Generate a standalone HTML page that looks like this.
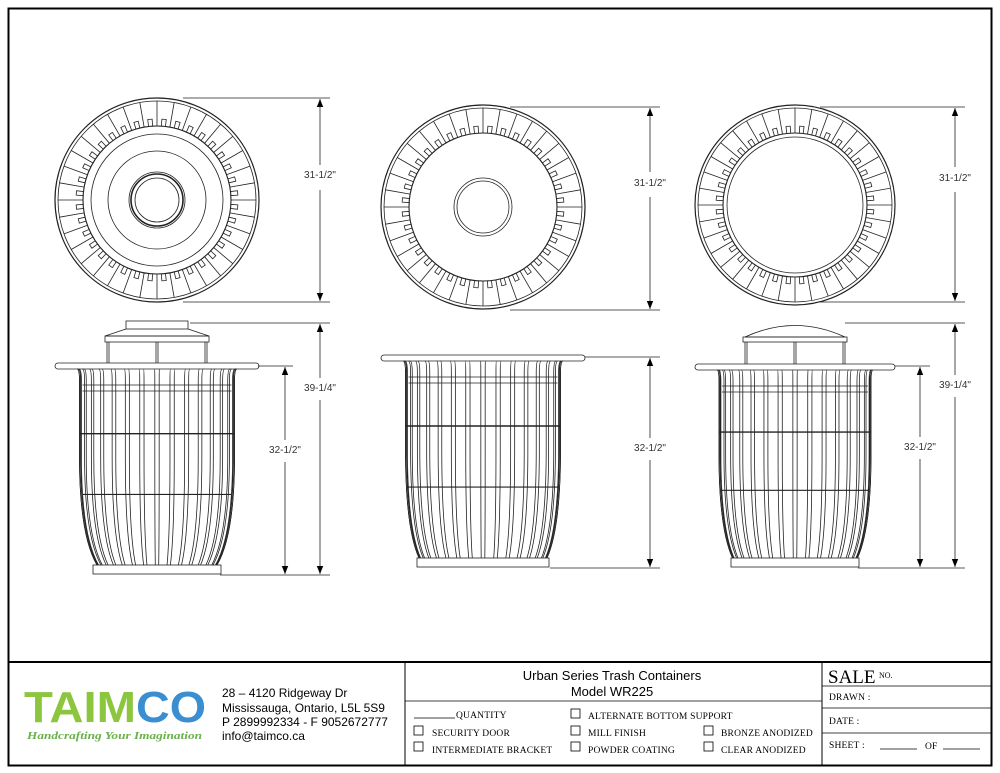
<!DOCTYPE html>
<html><head><meta charset="utf-8"><style>
html,body{margin:0;padding:0;background:#fff}
svg{display:block}
.s{font-family:"Liberation Serif",serif;font-size:9.5px;letter-spacing:0.2px}
</style></head><body>
<svg id="d" width="1000" height="773" viewBox="0 0 1000 773" xmlns="http://www.w3.org/2000/svg" fill="none" stroke="#222" stroke-width="0.8" font-family="Liberation Sans, sans-serif">
<defs><marker id="a" viewBox="0 0 10 10" refX="10" refY="5" markerWidth="8" markerHeight="12" orient="auto-start-reverse" markerUnits="userSpaceOnUse"><path d="M0,1 L10,5 L0,9z" fill="#000" stroke="none"/></marker></defs>
<rect x="8.5" y="8.5" width="983" height="757" stroke="#000" stroke-width="2"/>
<line x1="8" y1="662" x2="992" y2="662" stroke="#000" stroke-width="2"/>
<line x1="405" y1="662" x2="405" y2="766" stroke="#000" stroke-width="1"/>
<line x1="822" y1="662" x2="822" y2="766" stroke="#000" stroke-width="1"/>
<line x1="405" y1="701" x2="822" y2="701" stroke="#000"/>
<line x1="822" y1="686" x2="992" y2="686" stroke="#000"/>
<line x1="822" y1="708" x2="992" y2="708" stroke="#000"/>
<line x1="822" y1="733" x2="992" y2="733" stroke="#000"/>
<g id="g"></g>
<g stroke="none" fill="#000">
<text x="320" y="178" font-size="10" text-anchor="middle" fill="#333">31-1/2"</text>
<text x="650" y="186" font-size="10" text-anchor="middle" fill="#333">31-1/2"</text>
<text x="955" y="181" font-size="10" text-anchor="middle" fill="#333">31-1/2"</text>
<text x="320" y="391" font-size="10" text-anchor="middle" fill="#333">39-1/4"</text>
<text x="285" y="453" font-size="10" text-anchor="middle" fill="#333">32-1/2"</text>
<text x="650" y="451" font-size="10" text-anchor="middle" fill="#333">32-1/2"</text>
<text x="955" y="388" font-size="10" text-anchor="middle" fill="#333">39-1/4"</text>
<text x="920" y="450" font-size="10" text-anchor="middle" fill="#333">32-1/2"</text>
<text x="24" y="722" font-size="44" font-weight="bold" fill="#8cc63f" textLength="112" lengthAdjust="spacingAndGlyphs">TAIM</text>
<text x="136" y="722" font-size="44" font-weight="bold" fill="#3b8fd0" textLength="70" lengthAdjust="spacingAndGlyphs">CO</text>
<text x="27" y="739" font-size="11" font-style="italic" font-weight="bold" fill="#6ab04c" style="font-family:'Liberation Serif',serif" textLength="175" lengthAdjust="spacingAndGlyphs">Handcrafting Your Imagination</text>
<text x="222" y="697" font-size="12">28 – 4120 Ridgeway Dr</text>
<text x="222" y="712" font-size="12">Mississauga, Ontario, L5L 5S9</text>
<text x="222" y="726" font-size="12">P 2899992334 - F 9052672777</text>
<text x="222" y="740" font-size="12">info@taimco.ca</text>
<text x="612" y="680" font-size="13" text-anchor="middle">Urban Series Trash Containers</text>
<text x="612" y="696" font-size="13" text-anchor="middle">Model WR225</text>
<text class="s" x="456" y="718">QUANTITY</text>
<text class="s" x="588" y="719">ALTERNATE BOTTOM SUPPORT</text>
<text class="s" x="432" y="736">SECURITY DOOR</text>
<text class="s" x="588" y="736">MILL FINISH</text>
<text class="s" x="721" y="736">BRONZE ANODIZED</text>
<text class="s" x="432" y="753">INTERMEDIATE BRACKET</text>
<text class="s" x="588" y="753">POWDER COATING</text>
<text class="s" x="721" y="753">CLEAR ANODIZED</text>
<text x="828" y="683" font-size="19" style="font-family:'Liberation Serif',serif">SALE</text>
<text x="879" y="678" font-size="8" style="font-family:'Liberation Serif',serif">NO.</text>
<text class="s" x="829" y="700">DRAWN :</text>
<text class="s" x="829" y="724">DATE :</text>
<text class="s" x="829" y="748">SHEET :</text>
<text class="s" x="925" y="749">OF</text>
</g>
<g stroke="#000" stroke-width="0.8">
<line x1="414" y1="718" x2="455" y2="718"/>
<line x1="880" y1="749" x2="917" y2="749"/>
<line x1="943" y1="749" x2="980" y2="749"/>
<rect x="414" y="726" width="9" height="9"/><rect x="414" y="742" width="9" height="9"/>
<rect x="571" y="709" width="9" height="9"/><rect x="571" y="726" width="9" height="9"/><rect x="571" y="742" width="9" height="9"/>
<rect x="704" y="726" width="9" height="9"/><rect x="704" y="742" width="9" height="9"/>
</g>
</svg>
<script>
(function(){
var g=document.getElementById('g'),h='';
function L(a,b,c,d,e){h+='<line x1="'+a+'" y1="'+b+'" x2="'+c+'" y2="'+d+'"'+(e||'')+'/>';}
function C(x,y,r,e){h+='<circle cx="'+x+'" cy="'+y+'" r="'+r+'"'+(e||'')+'/>';}
function R(x,y,w,hh){h+='<rect x="'+x+'" y="'+y+'" width="'+w+'" height="'+hh+'"/>';}
function topView(cx,cy,r,type){
 C(cx,cy,r,' stroke-width="1.2"');C(cx,cy,r-3);C(cx,cy,r-28,' stroke-width="1.1"');
 var n=36;
 for(var i=0;i<n;i++){var t=i/n*2*Math.PI,c=Math.cos(t),s=Math.sin(t);
  L(cx+(r-3)*c,cy+(r-3)*s,cx+(r-28)*c,cy+(r-28)*s);
  var ri=r-21,t2=t+0.06,t3=t+2*Math.PI/n-0.06;
  h+='<path d="M'+(cx+(r-28)*Math.cos(t2))+','+(cy+(r-28)*Math.sin(t2))+' L'+(cx+ri*Math.cos(t2))+','+(cy+ri*Math.sin(t2))+' L'+(cx+ri*Math.cos(t3))+','+(cy+ri*Math.sin(t3))+' L'+(cx+(r-28)*Math.cos(t3))+','+(cy+(r-28)*Math.sin(t3))+'"/>';
 }
 if(type==1){C(cx,cy,r-36);C(cx,cy,r-53);C(cx,cy,28);C(cx,cy,26,' stroke-width="1.6"');C(cx,cy,22);}
 if(type==2){C(cx,cy,29);C(cx,cy,26);}
 if(type==3){C(cx,cy,r-32);}
}
function side(cx,rimY,rimW,topW,botW,botY,baseW,lid){
 var tw=topW/2,bw=botW/2;
 h+='<rect x="'+(cx-rimW/2)+'" y="'+rimY+'" width="'+rimW+'" height="6" rx="3"/>';
 var ty=rimY+6, y2=ty+12, ym=ty+(botY-ty)*0.45;
 var n=16;
 function edge(cc){var xt=cx+tw*cc,xb=cx+bw*cc;
   h+='<path d="M'+(cx+(rimW/2-22)*cc)+','+ty+' Q'+xt+','+ty+' '+xt+','+y2+' L'+xt+','+ym+' Q'+xt+','+(botY-30)+' '+xb+','+botY+'"/>';}
 for(var i=0;i<n;i++){var t=Math.PI*(i+0.5)/n;
   edge(-Math.cos(t-0.07));edge(-Math.cos(t+0.07));}
 edge(-1);edge(1);edge(-0.985);edge(0.985);
 var b1=ty+(botY-ty)*0.33,b2=ty+(botY-ty)*0.64;
 L(cx-tw,b1,cx+tw,b1,' stroke-width="1.4"');
 L(cx-tw+3,b2,cx+tw-3,b2,' stroke-width="1.2"');
 L(cx-tw+3,ty+16,cx+tw-3,ty+16);L(cx-tw+3,ty+22,cx+tw-3,ty+22);
 R(cx-baseW/2,botY,baseW,9);
 if(lid==1){R(cx-31,rimY-42,62,8);h+='<path d="M'+(cx-31)+','+(rimY-34)+' L'+(cx-52)+','+(rimY-27)+' L'+(cx+52)+','+(rimY-27)+' L'+(cx+31)+','+(rimY-34)+'"/>';
  R(cx-52,rimY-27,104,6);L(cx-50,rimY-21,cx-50,rimY);L(cx-48,rimY-21,cx-48,rimY);L(cx+48,rimY-21,cx+48,rimY);L(cx+50,rimY-21,cx+50,rimY);L(cx-1,rimY-21,cx-1,rimY);L(cx+1,rimY-21,cx+1,rimY);}
 if(lid==2){h+='<path d="M'+(cx-50)+','+(rimY-27)+' Q'+cx+','+(rimY-50)+' '+(cx+50)+','+(rimY-27)+'z"/>';
  R(cx-52,rimY-27,104,5);L(cx-50,rimY-22,cx-50,rimY);L(cx-48,rimY-22,cx-48,rimY);L(cx+48,rimY-22,cx+48,rimY);L(cx+50,rimY-22,cx+50,rimY);L(cx-1,rimY-22,cx-1,rimY);L(cx+1,rimY-22,cx+1,rimY);}
}
topView(157,200,102,1);topView(483,207,102,2);topView(795,205,100,3);
L(183,98,330,98);L(183,302,330,302);L(320,99,320,165,' marker-start="url(#a)"');L(320,190,320,301,' marker-end="url(#a)"');
L(510,107,660,107);L(510,310,660,310);L(650,108,650,172,' marker-start="url(#a)"');L(650,197,650,309,' marker-end="url(#a)"');
L(820,107,965,107);L(820,302,965,302);L(955,108,955,167,' marker-start="url(#a)"');L(955,192,955,301,' marker-end="url(#a)"');
side(157,363,204,155,120,565,128,1);
side(483,355,204,155,128,558,132,0);
side(795,364,200,152,125,558,128,2);
L(190,323,330,323);L(258,366,293,366);L(220,575,330,575);
L(320,324,320,378,' marker-start="url(#a)"');L(320,400,320,574,' marker-end="url(#a)"');
L(285,367,285,440,' marker-start="url(#a)"');L(285,462,285,574,' marker-end="url(#a)"');
L(585,357,660,357);L(550,568,660,568);
L(650,358,650,438,' marker-start="url(#a)"');L(650,460,650,567,' marker-end="url(#a)"');
L(845,323,965,323);L(895,366,930,366);L(858,568,965,568);
L(955,324,955,375,' marker-start="url(#a)"');L(955,397,955,567,' marker-end="url(#a)"');
L(920,367,920,437,' marker-start="url(#a)"');L(920,459,920,567,' marker-end="url(#a)"');
g.innerHTML=h;
})();
</script>
</body></html>
